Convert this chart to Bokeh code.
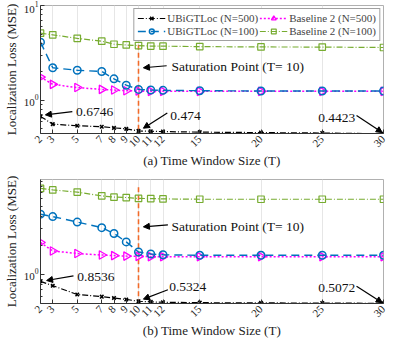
import math
from bokeh.plotting import figure
from bokeh.models import (Range1d, FixedTicker, Legend, LegendItem, Arrow,
                          NormalHead, Label)
from bokeh.layouts import column
from bokeh.embed import file_html
from bokeh.resources import INLINE

# ---------------- data ----------------
T = [2, 3, 5, 7, 8, 9, 10, 11, 12, 15, 20, 25, 30]
x_ticks = [2, 3, 5, 7, 8, 9, 10, 11, 12, 15, 20, 25, 30]

a_ubi500 = [0.6746, 0.559, 0.537, 0.525, 0.51, 0.498, 0.474, 0.47, 0.466, 0.46, 0.455, 0.45, 0.4423]
a_ubi100 = [4.1, 2.2, 2.07, 2.01, 1.68, 1.44, 1.30, 1.28, 1.27, 1.26, 1.25, 1.25, 1.25]
a_b500 = [1.75, 1.47, 1.36, 1.30, 1.28, 1.26, 1.25, 1.24, 1.24, 1.24, 1.24, 1.24, 1.24]
a_b100 = [5.1, 4.9, 4.5, 4.2, 3.9, 3.83, 3.77, 3.73, 3.72, 3.68, 3.65, 3.64, 3.6]

b_ubi500 = [0.8536, 0.77, 0.625, 0.594, 0.575, 0.556, 0.5324, 0.525, 0.52, 0.515, 0.512, 0.51, 0.5072]
b_ubi100 = [4.18, 3.95, 3.47, 3.04, 2.65, 2.17, 1.71, 1.63, 1.6, 1.58, 1.58, 1.58, 1.58]
b_b500 = [2.14, 1.75, 1.65, 1.59, 1.57, 1.55, 1.54, 1.53, 1.53, 1.53, 1.53, 1.53, 1.53]
b_b100 = [7.7, 7.43, 7.05, 6.45, 6.26, 6.2, 6.07, 6.05, 6.0, 5.95, 5.95, 5.95, 5.95]

series_names = ["UBiGTLoc (N=500)", "UBiGTLoc (N=100)", "Baseline 2 (N=500)", "Baseline 2 (N=100)"]

# annotations: text, text_x, text_y, align, arrow start (x, y), arrow end (x, y)
ann_a = [
    ("0.6746", 4.9, 0.745, "left", 4.6, 0.757, 2.4, 0.70),
    ("0.474", 12.6, 0.678, "left", 12.35, 0.734, 10.4, 0.506),
    ("Saturation Point (T= 10)", 12.7, 2.25, "left", 12.3, 2.31, 10.4, 2.2),
    ("0.4423", 27.7, 0.653, "right", 27.8, 0.689, 29.9, 0.455),
]
ann_b = [
    ("0.8536", 5.0, 0.943, "left", 4.69, 0.97, 2.5, 0.87),
    ("0.5324", 12.5, 0.755, "left", 12.4, 0.70, 10.4, 0.56),
    ("Saturation Point (T= 10)", 12.7, 3.16, "left", 12.4, 3.25, 10.4, 3.1),
    ("0.5072", 27.7, 0.726, "right", 27.8, 0.76, 29.9, 0.515),
]

FONT = "Liberation Serif"
BLACK = "#000000"
BLUE = "#0072BD"
MAGENTA = "#FF00FF"
GREEN = "#77AC30"
ORANGE = "#F26B2A"
MINOR = [0.2, 0.3, 0.4, 0.5, 0.6, 0.7, 0.8, 0.9, 2, 3, 4, 5, 6, 7, 8, 9]


def make_plot(title, ys, yrange, sat_top, anns, legend, height, top_border):
    p = figure(width=388, height=height, x_axis_type="linear", y_axis_type="log",
               x_range=Range1d(2, 30), y_range=Range1d(*yrange),
               output_backend="svg", toolbar_location=None,
               min_border_left=37, min_border_right=5,
               min_border_top=top_border, min_border_bottom=20)
    p.background_fill_color = "white"
    p.outline_line_color = "#b0b0b0"
    p.outline_line_width = 1

    # axes
    p.xaxis.ticker = FixedTicker(ticks=x_ticks)
    p.xaxis.major_label_orientation = math.pi / 4
    p.yaxis.ticker = FixedTicker(ticks=[0.1, 1, 10], minor_ticks=MINOR)
    for ax in (p.xaxis[0], p.yaxis[0]):
        ax.major_label_text_font = FONT
        ax.major_label_text_font_size = "11px"
        ax.major_label_text_color = "#222222"
        ax.axis_label_text_font = FONT
        ax.axis_label_text_font_size = "13px"
        ax.axis_label_text_font_style = "normal"
        ax.axis_label_text_color = "#222222"
        ax.axis_line_color = "#333333"
        ax.major_tick_in = 4
        ax.major_tick_out = 0
        ax.minor_tick_in = 2
        ax.minor_tick_out = 0
        ax.major_tick_line_color = "#333333"
        ax.minor_tick_line_color = "#333333"
        ax.major_label_standoff = 2
        ax.axis_label_standoff = 2
    p.xaxis.major_label_standoff = 4
    p.xaxis.axis_label_standoff = 0
    p.xaxis.minor_tick_line_color = None
    p.xaxis.axis_label = title
    p.yaxis.axis_label = "Localization Loss (MSE)"

    p.xgrid.ticker = FixedTicker(ticks=x_ticks)
    p.xgrid.grid_line_color = "#e6e6e6"
    p.ygrid.grid_line_color = None

    y1, y2, y3, y4 = ys
    # saturation line
    p.segment(x0=[10], y0=[sat_top], x1=[10], y1=[yrange[0]], line_color=ORANGE,
              line_width=1.6, line_dash="5 3")

    r_g_l = p.line(T, y4, line_color=GREEN, line_width=1.2, line_dash="6 2 1 2")
    r_g_m = p.scatter(T, y4, marker="square", size=6.5, line_color=GREEN,
                      fill_color=None, line_width=1.2)
    r_m_l = p.line(T, y3, line_color=MAGENTA, line_width=1.5, line_dash="2 2")
    r_m_m = p.scatter(T, y3, marker="triangle", angle=-math.pi / 2, size=8.5,
                      line_color=MAGENTA, fill_color=None, line_width=1.3)
    r_b_l = p.line(T, y2, line_color=BLUE, line_width=1.4, line_dash="8 5")
    r_b_m = p.scatter(T, y2, marker="circle", size=7.5, line_color=BLUE,
                      fill_color=None, line_width=1.5)
    r_k_l = p.line(T, y1, line_color=BLACK, line_width=1.2, line_dash="6 2 1 2")
    r_k_m = p.scatter(T, y1, marker="x", size=5, line_color=BLACK, line_width=1.5)

    # annotations
    for txt, tx, ty, align, ax0, ay0, ax1, ay1 in anns:
        p.add_layout(Label(x=tx, y=ty, text=txt, text_align=align,
                           text_baseline="middle", text_font=FONT,
                           text_font_size="13.5px", text_color="#111111"))
        p.add_layout(Arrow(x_start=ax0, y_start=ay0, x_end=ax1, y_end=ay1,
                           line_color="black", line_width=1.2,
                           end=NormalHead(size=6, fill_color="black",
                                          line_color="black")))

    if legend:
        items = [
            LegendItem(label=series_names[0], renderers=[r_k_l, r_k_m]),
            LegendItem(label=series_names[1], renderers=[r_b_l, r_b_m]),
            LegendItem(label=series_names[2], renderers=[r_m_l, r_m_m]),
            LegendItem(label=series_names[3], renderers=[r_g_l, r_g_m]),
        ]
        lg = Legend(items=items, location="top_right", ncols=2,
                    label_text_font=FONT, label_text_font_size="11px",
                    label_height=12, glyph_height=12, glyph_width=28,
                    label_standoff=2, spacing=1, padding=3, margin=3,
                    border_line_color="#444444", border_line_width=0.8,
                    background_fill_alpha=1.0)
        p.add_layout(lg)
    return p


p1 = make_plot("(a) Time Window Size (T)", (a_ubi500, a_ubi100, a_b500, a_b100),
               (0.445, 10), 3.85, ann_a, True, 171, 5)
p2 = make_plot("(b) Time Window Size (T)", (b_ubi500, b_ubi100, b_b500, b_b100),
               (0.505, 9.5), 7.9, ann_b, False, 170, 8)

layout = column(p1, p2, spacing=0)
open("out.html", "w").write(file_html(layout, INLINE))
